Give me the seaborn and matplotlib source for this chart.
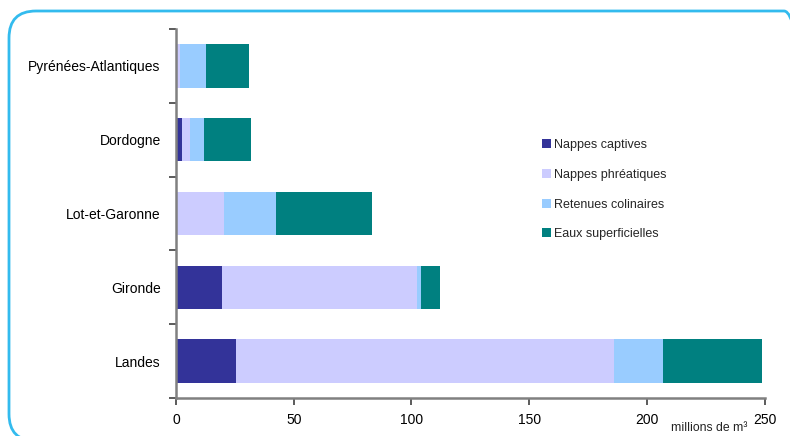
import matplotlib
matplotlib.use("Agg")
import matplotlib.pyplot as plt
import seaborn as sns
import numpy as np
import pandas as pd
from matplotlib.patches import FancyBboxPatch, Patch
from matplotlib.ticker import FixedLocator
from matplotlib.transforms import IdentityTransform

sns.set_theme(style="white")
plt.rcParams['font.family'] = ['Liberation Sans', 'DejaVu Sans']

departements = ["Pyrénées-Atlantiques", "Dordogne", "Lot-et-Garonne", "Gironde", "Landes"]
nappes_captives = [0.0, 2.5, 0.0, 19.5, 25.5]
nappes_phreatiques = [1.7, 3.4, 20.4, 82.9, 160.6]
retenues_colinaires = [11.0, 6.0, 22.1, 1.7, 20.8]
eaux_superficielles = [18.3, 20.0, 40.8, 8.1, 42.1]

series_names = ["Nappes captives", "Nappes phréatiques", "Retenues colinaires", "Eaux superficielles"]
series_colors = ["#333399", "#CCCCFF", "#99CCFF", "#008080"]
x_ticks = [0, 50, 100, 150, 200, 250]

W, H = 790, 436
fig = plt.figure(figsize=(W / 100, H / 100), dpi=100)

# rounded border, in display pixels (origin bottom-left)
border = FancyBboxPatch((9, H - 441), 802, 430, boxstyle="round,pad=0,rounding_size=27",
                        fill=False, edgecolor="#33BBEE", linewidth=2.0,
                        transform=IdentityTransform())
fig.add_artist(border)

ax = fig.add_axes([176 / W, 38 / H, 588.5 / W, 369 / H])

df = pd.DataFrame({
    "dep": departements,
    series_names[0]: nappes_captives,
    series_names[1]: nappes_phreatiques,
    series_names[2]: retenues_colinaires,
    series_names[3]: eaux_superficielles,
})
cum = df[series_names].cumsum(axis=1)

for name, color in reversed(list(zip(series_names, series_colors))):
    sns.barplot(x=cum[name], y=df["dep"], orient="h", color=color, width=0.59,
                saturation=1, ax=ax, linewidth=0, edgecolor="none")

ax.set_xlim(0, 250)
ax.set_ylim(len(departements) - 0.5, -0.5)
ax.set_xticks(x_ticks)
ax.set_xticklabels([str(t) for t in x_ticks])
ax.yaxis.set_minor_locator(FixedLocator(np.arange(-0.5, len(departements), 1.0)))
ax.tick_params(axis="y", which="major", length=0, pad=11, labelsize=10, labelcolor="black")
ax.tick_params(axis="y", which="minor", length=5, width=1.2, color="#404040", left=True, direction="out")
ax.tick_params(axis="x", which="major", length=5, width=1.2, color="#404040", bottom=True,
               direction="out", pad=6, labelsize=10, labelcolor="black")
ax.set_xlabel("")
ax.set_ylabel("")
for s in ["top", "right"]:
    ax.spines[s].set_visible(False)
for s in ["left", "bottom"]:
    ax.spines[s].set_color("#808080")
    ax.spines[s].set_linewidth(1.8)
ax.set_facecolor("none")

handles = [Patch(facecolor=c, edgecolor="none") for c in series_colors]
fig.legend(handles, series_names, loc="upper left", bbox_to_anchor=(542 / W, 1 - 139 / H),
           frameon=False, fontsize=9, handlelength=0.75, handleheight=0.75,
           handletextpad=0.2, labelspacing=1.42, borderpad=0, borderaxespad=0)

fig.text(671 / W, 1 - 428 / H, "millions de m³", fontsize=8.8, va="center", ha="left", color="#222222")

fig.savefig("out.png", dpi=100)
